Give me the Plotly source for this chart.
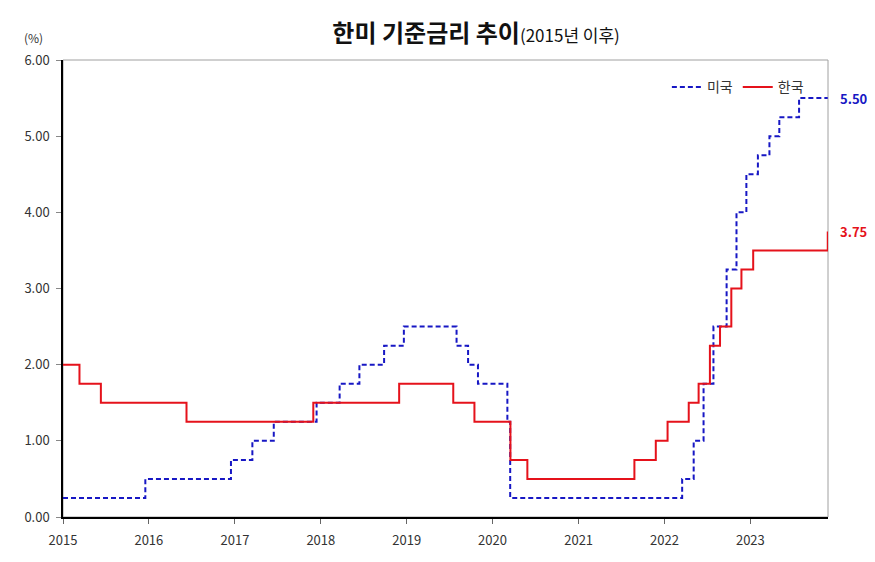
import plotly.graph_objects as go

# 미국 정책금리 (상단) 변경일과 금리
us_dates = [
    "2015-01-01", "2015-12-17", "2016-12-15", "2017-03-16", "2017-06-15",
    "2017-12-14", "2018-03-22", "2018-06-14", "2018-09-27", "2018-12-20",
    "2019-08-01", "2019-09-19", "2019-10-31", "2020-03-04", "2020-03-16",
    "2022-03-17", "2022-05-05", "2022-06-16", "2022-07-28", "2022-09-22",
    "2022-11-03", "2022-12-15", "2023-02-02", "2023-03-23", "2023-05-04",
    "2023-07-27", "2023-11-26",
]
us_rates = [
    0.25, 0.50, 0.75, 1.00, 1.25,
    1.50, 1.75, 2.00, 2.25, 2.50,
    2.25, 2.00, 1.75, 1.25, 0.25,
    0.50, 1.00, 1.75, 2.50, 3.25,
    4.00, 4.50, 4.75, 5.00, 5.25,
    5.50, 5.50,
]

# 한국 기준금리 변경일과 금리
kr_dates = [
    "2015-01-01", "2015-03-12", "2015-06-11", "2016-06-09", "2017-11-30",
    "2018-11-30", "2019-07-18", "2019-10-16", "2020-03-17", "2020-05-28",
    "2021-08-26", "2021-11-25", "2022-01-14", "2022-04-14", "2022-05-26",
    "2022-07-13", "2022-08-25", "2022-10-12", "2022-11-24", "2023-01-13",
    "2023-11-26",
]
kr_rates = [
    2.00, 1.75, 1.50, 1.25, 1.50,
    1.75, 1.50, 1.25, 0.75, 0.50,
    0.75, 1.00, 1.25, 1.50, 1.75,
    2.25, 2.50, 3.00, 3.25, 3.50,
    3.75,
]

year_ticks = [f"{y}-01-01" for y in range(2015, 2024)]
year_labels = [str(y) for y in range(2015, 2024)]

BLUE = "#1717C4"
RED = "#E5121B"
FONT = "Noto Sans CJK KR"

fig = go.Figure()
fig.add_trace(go.Scatter(
    x=us_dates, y=us_rates, name="미국", mode="lines",
    line=dict(color=BLUE, width=2, dash="5px,3px", shape="hv"),
))
fig.add_trace(go.Scatter(
    x=kr_dates, y=kr_rates, name="한국", mode="lines",
    line=dict(color=RED, width=2, shape="hv"),
))

# end-value labels
fig.add_annotation(x=1, xref="paper", y=us_rates[-1], yref="y", xanchor="left", xshift=10,
                   text=f"<b>{us_rates[-1]:.2f}</b>", showarrow=False,
                   font=dict(color=BLUE, size=13, family=FONT))
fig.add_annotation(x=1, xref="paper", y=kr_rates[-1], yref="y", xanchor="left", xshift=10,
                   text=f"<b>{kr_rates[-1]:.2f}</b>", showarrow=False,
                   font=dict(color=RED, size=13, family=FONT))
fig.add_annotation(x=0, xref="paper", y=1, yref="paper", xanchor="center", yanchor="bottom",
                   xshift=-30, yshift=12,
                   text="(%)", showarrow=False, font=dict(size=12, color="#333"))

# gray frame (top/right)
fig.add_shape(type="rect", xref="paper", yref="paper", x0=0, x1=1, y0=0, y1=1,
              line=dict(color="#A0A0A0", width=1), layer="below")

# page body has an 8px margin, so margins are offset to keep the plot area in place
fig.update_layout(
    width=875, height=562,
    margin=dict(l=55, r=55, t=52, b=53),
    paper_bgcolor="white", plot_bgcolor="white",
    font=dict(family=FONT, size=13, color="#333"),
    title=dict(
        text="<b>한미 기준금리 추이</b><span style='font-size:17px'>(2015년 이후)</span>",
        x=0.535, xanchor="center", y=0.955, yanchor="middle",
        font=dict(size=24, color="#111", family=FONT),
    ),
    legend=dict(orientation="h", x=0.975, xanchor="right", y=0.975, yanchor="top",
                bgcolor="rgba(0,0,0,0)", font=dict(size=14, color="#333")),
    showlegend=True,
)
fig.update_xaxes(
    type="date", range=["2015-01-01", "2023-11-27"],
    tickvals=year_ticks, ticktext=year_labels,
    showgrid=False, zeroline=False,
    showline=True, linecolor="black", linewidth=1.5,
    ticks="outside", ticklen=5, tickcolor="#666",
    ticklabelstandoff=6,
)
fig.update_yaxes(
    range=[0, 6], dtick=1, tickformat=".2f",
    showgrid=False, zeroline=False,
    showline=True, linecolor="black", linewidth=1.5,
    ticks="outside", ticklen=5, tickcolor="#888",
    ticklabelstandoff=4,
)

fig.write_html("out.html")
